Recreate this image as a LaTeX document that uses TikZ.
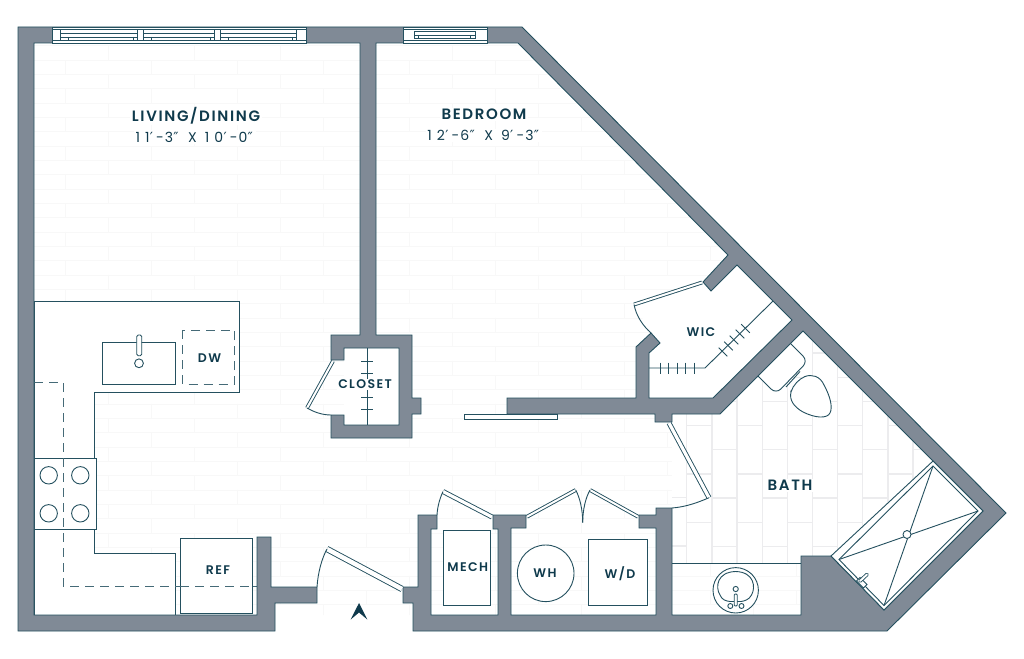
\documentclass[tikz,border=0pt]{standalone}
\usepackage{fontspec}
\setmainfont{Poppins}
\newfontfamily\roomfont[LetterSpace=11]{Poppins SemiBold}
\newfontfamily\dimfont[LetterSpace=36]{Poppins}
\newfontfamily\primefont{DejaVu Sans}
\newcommand{\ftm}{{\primefont\kern0.3pt ′\kern3.2pt}}
\newcommand{\inm}{{\primefont\kern0.3pt ″\kern1.5pt}}
\newcommand{\gapm}{\kern8pt}
\definecolor{ink}{HTML}{0F3A4C}
\definecolor{edge}{HTML}{24505F}
\definecolor{wallfill}{HTML}{808A96}
\definecolor{brickline}{HTML}{F8F8F8}
\definecolor{tileline}{HTML}{ECECEE}
\tikzset{
  wall/.style={fill=wallfill,draw=edge,line width=0.9pt,line join=miter},
  fixture/.style={draw=edge,line width=0.9pt,fill=white},
  thinline/.style={draw=edge,line width=0.9pt},
  dashline/.style={draw=edge!85,line width=0.9pt,dash pattern=on 9pt off 6pt},
  doorleaf/.style={draw=edge,line width=0.9pt,double=white,double distance=2pt},
  entryleaf/.style={draw=edge,line width=0.9pt,double=white,double distance=4.5pt},
  roomlabel/.style={text=ink,font=\roomfont\fontsize{15}{15}\selectfont,inner sep=1.5pt,fill=white},
  dimlabel/.style={text=ink,font=\dimfont\fontsize{14}{15}\selectfont,inner sep=1.5pt,fill=white},
  smalllabel/.style={text=ink,font=\roomfont\fontsize{12.5}{13}\selectfont,inner sep=1pt,fill=white},
}
\begin{document}
\begin{tikzpicture}[x=1pt,y=-1pt]
\useasboundingbox (0,0) rectangle (1024,658);
\fill[white] (0,0) rectangle (1024,658);
% brick floor
\begin{scope}
\clip (34,43) -- (518,43) -- (800,328) -- (800,615) -- (34,615) -- cycle;
\foreach \r in {0,...,40}{
  \pgfmathsetmacro{\yy}{45.7+14.33*\r}
  \draw[brickline,line width=0.8pt] (34,\yy) -- (800,\yy);
  \pgfmathsetmacro{\off}{mod(\r,2)==0?22.7:65.7}
  \foreach \k in {0,...,9}{
    \pgfmathsetmacro{\xx}{\off+86*\k}
    \draw[brickline,line width=0.8pt] (\xx,\yy) -- (\xx,\yy+14.33);
  }
}
\end{scope}
% rooms without brick
\fill[white] (344,348) rectangle (399,425);
\fill[white] (634,304) -- (702,282) -- (711,291) -- (737,265) -- (792,320) -- (713,398) -- (649,398) -- (649,353) -- (651,333) -- cycle;
% bath tile
\begin{scope}
\clip (672,414) -- (720,414) -- (803,331) -- (933,461) -- (831,556) -- (801,556) -- (801,564) -- (672,564) -- cycle;
\fill[white] (672,330) rectangle (940,564);
\foreach \c in {0,...,9}{
  \pgfmathsetmacro{\xx}{686.7+25.15*\c}
  \draw[tileline,line width=1.3pt] (\xx,330) -- (\xx,564);
  \pgfmathsetmacro{\first}{mod(\c,2)==0?329:353}
  \foreach \k in {0,...,5}{
    \pgfmathsetmacro{\yy}{\first+48.3*\k}
    \draw[tileline,line width=1.3pt] (\xx,\yy) -- (\xx+25.15,\yy);
  }
}
\draw[tileline,line width=1.3pt] (672,546) -- (686.7,546);
\draw[tileline,line width=1.3pt] (672,497.7) -- (686.7,497.7);
\end{scope}
% kitchen counter
\path[fixture] (34,301) -- (239,301) -- (239,392) -- (94,392) -- (94,553) -- (175,553) -- (175,615) -- (34,615) -- cycle;
\draw[dashline] (34,382) -- (63,382) -- (63,586) -- (257,586);
\path[fixture] (102.5,342) rectangle (175,384);
\path[fixture,rounded corners=1.5pt] (136.7,335) rectangle (141.7,355.7);
\path[fixture] (139,363.3) circle[radius=4.4];
\draw[dashline] (182.5,330) rectangle (234.5,384);
\path[fixture] (34,458) rectangle (96,529);
\draw[dashline] (63,458) -- (63,529);
\foreach \p in {48.7,80.3}{\foreach \q in {475.3,513.3}{\path[fixture] (\p,\q) circle[radius=8.7];}}
\path[fixture] (180,538) rectangle (252,613);
\draw[dashline] (175,586) -- (180,586);
\draw[dashline] (180,586) -- (252,586);
% toilet
\path[fixture,rounded corners=7pt] (785,338) -- (808,361) -- (776,394) -- (752,370);
\draw[thinline] (800,371.5) -- (786,387) (805,376.5) -- (790.5,391.5);
\path[fixture] (805,376.5) .. controls (812,374) and (820,376) .. (824,385) .. controls (830,396) and (833,407) .. (830,413) .. controls (827,419) and (815,418) .. (803,412) .. controls (794,407) and (789,400) .. (791,392) .. controls (793,385) and (799,379) .. (805,376.5) -- cycle;
% walls
\path[wall] (275,631) -- (275,603) -- (317,603) -- (317,587) -- (271,587) -- (271,537) -- (257,537) -- (257,615) -- (34,615) -- (34,43)
 -- (360,43) -- (360,335) -- (331,335) -- (331,360) -- (344,360) -- (344,348) -- (399,348) -- (399,425) -- (344,425) -- (344,415) -- (331,415) -- (331,438) -- (412,438) -- (412,414) -- (421,414) -- (421,398) -- (412,398) -- (412,335) -- (376,335) -- (376,43)
 -- (518,43) -- (728,255) -- (703,282) -- (711,291) -- (737,265) -- (792,320) -- (713,398) -- (649,398) -- (649,353) -- (660,343) -- (651,333) -- (636,347) -- (636,398) -- (507,398) -- (507,414)
 -- (655,414) -- (655,422) -- (672,422) -- (672,414) -- (720,414) -- (803,331) -- (933,461) -- (983,511) -- (884,610) -- (831,556) -- (801,556) -- (801,615) -- (672,615) -- (672,508) -- (656,508) -- (656,515) -- (639,515) -- (639,528) -- (656,528) -- (656,615) -- (511,615) -- (511,528) -- (526,528) -- (526,515) -- (493,515) -- (493,529) -- (498,529) -- (498,615) -- (431,615) -- (431,529) -- (437,529) -- (437,515) -- (418,515) -- (418,587) -- (403,587) -- (403,603) -- (413,603) -- (413,631) -- (887,631) -- (1006,513) -- (522,27) -- (18,27) -- (18,631) -- cycle;
% windows
\path[fixture] (52,27) rectangle (306,43);
\draw[thinline,line width=0.7pt] (52,29.7) -- (306,29.7) (52,40.3) -- (306,40.3);
\foreach \a/\b in {60.3/137.3,143/214.7,220.5/296.5}{
  \draw[thinline,line width=0.6pt] (\a,30) -- (\a,40) (\b,30) -- (\b,40) (\a,33.5) -- (\b,33.5) (\a,37) -- (\b,37)
    (\a+8,37) -- (\a+8,40) (\b-4,37) -- (\b-4,40);
}
\path[fixture] (403,27) rectangle (487,43);
\draw[thinline,line width=0.7pt] (403,29.7) -- (487,29.7) (403,40.3) -- (487,40.3);
\draw[thinline,line width=0.6pt] (414.3,31.5) -- (414.3,38) -- (475,38) -- (475,31.5) -- cycle (414.3,35) -- (475,35)
  (418.5,35) -- (418.5,38) (470.5,35) -- (470.5,38);
% doors
\draw[entryleaf] (327,549) -- (402,589);
\draw[thinline] (317,587) .. controls (318,572) and (322,558) .. (327,549);
\draw[entryleaf,double distance=3.2pt] (443,491.5) -- (492,517);
\draw[thinline] (437,515) .. controls (437.5,506) and (440,498) .. (443,491.5);
\draw[doorleaf] (527,516.7) -- (575.7,490);
\draw[doorleaf] (590,490) -- (638,516.7);
\draw[thinline] (575.7,490) .. controls (580,498) and (582.7,510) .. (582.7,522.7);
\draw[thinline] (590,490) .. controls (585.5,498) and (582.7,510) .. (582.7,522.7);
\draw[doorleaf,double distance=3.2pt] (669,423) -- (709,497.7);
\draw[thinline] (709,497.7) .. controls (697,503) and (685,507) .. (672,508);
\draw[doorleaf] (333,361) -- (307,408);
\draw[thinline] (307,408) .. controls (314,412) and (322,415) .. (331,415);
\draw[doorleaf] (702,282.5) -- (634,304.5);
\draw[thinline] (634,304.5) .. controls (636,315) and (642,325) .. (651,333);
\path[fixture] (464,414.5) rectangle (557,419);
% closet rod
\draw[thinline] (367,348) -- (367,425);
\foreach \yy in {361,373,397,409}{\draw[thinline] (361,\yy) -- (373,\yy);}
% wic rod
\draw[thinline] (649,368) -- (705,368) -- (773,301);
\foreach \xx in {660,668.7,677,685.7,694}{\draw[thinline] (\xx,362.5) -- (\xx,374);}
\foreach \xx/\yy in {723/352,728.5/346,734/340,740/334,745.5/328.5}{\draw[thinline] (\xx-4.3,\yy-4.3) -- (\xx+4.3,\yy+4.3);}
% mech, wh, wd
\path[fixture] (443.7,530) rectangle (490.5,605);
\path[fixture] (545.7,573.3) circle[radius=28.3];
\path[fixture] (588.7,539.3) rectangle (647.7,605.7);
% vanity
\draw[thinline] (672,563.5) -- (801,563.5);
\path[fixture] (735.7,590.3) circle[radius=22.7];
\draw[thinline] (720,595) .. controls (715,587) and (717,572) .. (735.7,571.5) .. controls (754,572) and (756,587) .. (751.5,595) .. controls (749,600) and (744,601) .. (741,601.5) -- (730,601.5) .. controls (726,601) and (722,600) .. (720,595) -- cycle;
\path[fixture] (735.7,589) circle[radius=2.6];
\path[fixture,rounded corners=1pt] (734.2,594) rectangle (737.2,606);
\path[fixture] (730.3,606) circle[radius=2.5];
\path[fixture] (741.5,606) circle[radius=2.5];
% shower
\path[fixture] (933,461) -- (983,511) -- (884,610) -- (831,556) -- cycle;
\path[thinline] (933,466) -- (978,511) -- (884,605.5) -- (839,559.5) -- cycle;
\draw[thinline] (933,466) -- (884,605.5) (839,559.5) -- (978,511);
\path[fixture] (907,534.5) circle[radius=4];
\path[fixture] (856.5,581) -- (860,577.5) -- (867,584.5) -- (863.5,588) -- cycle;
\draw[edge,line width=3.6pt,line cap=round] (860,581) -- (867,574.5);
\draw[white,line width=1.9pt,line cap=round] (860,581) -- (867,574.5);
% north arrow
\fill[ink] (359,603) -- (367.3,619.5) -- (359,612.5) -- (350.7,619.5) -- cycle;
% labels
\node[roomlabel] (living) at (196,115.5) {LIVING/DINING};
\node[dimlabel] (livingdim) at (195,137) {11\ftm-\kern1pt 3\inm\gapm X\gapm 10\ftm-\kern1pt 0\inm};
\node[roomlabel] (bedroom) at (484,114.5) {BEDROOM};
\node[dimlabel] (bedroomdim) at (484,135.5) {12\ftm-\kern1pt 6\inm\gapm X\gapm 9\ftm-\kern1pt 3\inm};
\node[smalllabel] (dw) at (209.5,358) {DW};
\node[smalllabel] (ref) at (218,570.5) {REF};
\node[smalllabel] (closet) at (365,384.5) {CLOSET};
\node[smalllabel] (wic) at (701,332) {WIC};
\node[roomlabel] (bath) at (790,485.5) {BATH};
\node[smalllabel] (mech) at (467.7,567) {MECH};
\node[smalllabel,fill=none] (wh) at (545,573) {WH};
\node[smalllabel] (wd) at (620,573.5) {W/D};
\end{tikzpicture}
\end{document}
